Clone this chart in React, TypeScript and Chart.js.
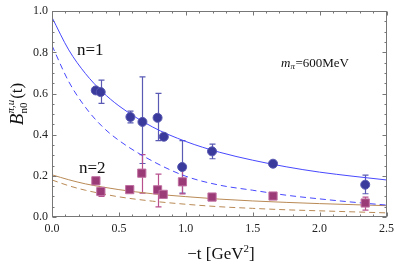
import React, { useEffect, useRef } from "react";
import { Chart, registerables } from "chart.js";

Chart.register(...registerables);

// n=1 lattice points
const t1 = [0.327, 0.364, 0.586, 0.676, 0.789, 0.836, 0.973, 1.196, 1.652, 2.341];
const v1 = [0.615, 0.607, 0.486, 0.462, 0.482, 0.39, 0.243, 0.319, 0.259, 0.157];
const lo1 = [null, 0.552, 0.457, 0.26, 0.371, null, 0.116, 0.283, null, 0.113];
const hi1 = [null, 0.665, 0.514, 0.681, 0.601, null, 0.371, 0.354, null, 0.203];

// n=2 lattice points
const t2 = [0.328, 0.365, 0.581, 0.671, 0.789, 0.831, 0.975, 1.196, 1.652, 2.341];
const v2 = [0.176, 0.124, 0.133, 0.213, 0.132, 0.11, 0.171, 0.097, 0.102, 0.068];
const lo2 = [null, 0.1, 0.122, 0.116, 0.049, null, 0.112, null, null, 0.033];
const hi2 = [null, 0.14, 0.145, 0.303, 0.208, null, 0.228, null, null, 0.097];

// fit curves
const tc = [0, 0.125, 0.25, 0.375, 0.5, 0.75, 1.0, 1.25, 1.5, 1.75, 2.0, 2.25, 2.5];
const fit1Solid = [0.97, 0.812, 0.697, 0.609, 0.54, 0.438, 0.367, 0.315, 0.276, 0.244, 0.218, 0.198, 0.18];
const fit1Dashed = [0.833, 0.658, 0.533, 0.44, 0.372, 0.272, 0.198, 0.155, 0.13, 0.106, 0.088, 0.072, 0.058];
const fit2Solid = [0.205, 0.181, 0.161, 0.146, 0.133, 0.113, 0.099, 0.087, 0.078, 0.071, 0.065, 0.06, 0.055];
const fit2Dashed = [0.18, 0.152, 0.13, 0.113, 0.098, 0.077, 0.062, 0.05, 0.042, 0.035, 0.03, 0.025, 0.02];

const xTicks = [0, 0.5, 1.0, 1.5, 2.0, 2.5];
const yTicks = [0, 0.2, 0.4, 0.6, 0.8, 1.0];

const SERIF = "'Liberation Serif', 'DejaVu Serif', serif";
const BLUE_LINE = "#4848ff";
const BROWN_LINE = "#b98a55";
const BLUE_PT = "#3a3a9c";
const PINK_PT = "#9a3a76";

const pts = (xs: number[], ys: number[]) => xs.map((x, i) => ({ x, y: ys[i] }));

const framePlugin = {
  id: "frame",
  beforeDatasetsDraw(chart: any) {
    const { ctx, scales } = chart;
    const xs = scales.x;
    const ys = scales.y;
    ctx.save();
    const drawErr = (xsArr: number[], lo: (number | null)[], hi: (number | null)[], color: string) => {
      ctx.strokeStyle = color;
      ctx.lineWidth = 1.2;
      xsArr.forEach((t, i) => {
        const l = lo[i];
        const h = hi[i];
        if (l == null || h == null) return;
        const px = Math.round(xs.getPixelForValue(t)) + 0.5;
        const pl = ys.getPixelForValue(l);
        const ph = ys.getPixelForValue(h);
        ctx.beginPath();
        ctx.moveTo(px, pl);
        ctx.lineTo(px, ph);
        ctx.moveTo(px - 3, pl);
        ctx.lineTo(px + 3, pl);
        ctx.moveTo(px - 3, ph);
        ctx.lineTo(px + 3, ph);
        ctx.stroke();
      });
    };
    drawErr(t1, lo1, hi1, "#5a5ab4");
    drawErr(t2, lo2, hi2, "#b8508e");
    ctx.restore();
  },
  afterDraw(chart: any) {
    const { ctx, chartArea: a, scales } = chart;
    const xs = scales.x;
    const ys = scales.y;
    ctx.save();
    ctx.strokeStyle = "#777";
    ctx.lineWidth = 1;
    const L = Math.round(a.left) + 0.5;
    const R = Math.round(a.right) - 0.5;
    const T = Math.round(a.top) + 0.5;
    const B = Math.round(a.bottom) - 0.5;
    ctx.strokeRect(L, T, R - L, B - T);
    ctx.beginPath();
    for (let k = 0; k <= 25; k++) {
      const v = k / 10;
      const len = k % 5 === 0 ? 4 : 2;
      const px = Math.round(xs.getPixelForValue(v)) + 0.5;
      ctx.moveTo(px, B);
      ctx.lineTo(px, B - len);
      ctx.moveTo(px, T);
      ctx.lineTo(px, T + len);
    }
    for (let k = 0; k <= 20; k++) {
      const v = k / 20;
      const len = k % 4 === 0 ? 4 : 2;
      const py = Math.round(ys.getPixelForValue(v)) + 0.5;
      ctx.moveTo(L, py);
      ctx.lineTo(L + len, py);
      ctx.moveTo(R, py);
      ctx.lineTo(R - len, py);
    }
    ctx.stroke();

    ctx.fillStyle = "#111";
    ctx.textBaseline = "middle";
    ctx.textAlign = "left";
    ctx.font = `17px ${SERIF}`;
    ctx.fillText("n=1", 77, 51);
    ctx.fillText("n=2", 79, 169);

    // m_pi = 600MeV
    let x = 281;
    const y = 64;
    ctx.font = `italic 13px ${SERIF}`;
    ctx.fillText("m", x, y);
    x += ctx.measureText("m").width;
    ctx.font = `italic 9px ${SERIF}`;
    ctx.fillText("π", x, y + 3);
    x += ctx.measureText("π").width + 0.5;
    ctx.font = `13px ${SERIF}`;
    ctx.fillText("=600MeV", x, y);

    // x title
    ctx.font = `17px ${SERIF}`;
    const a1 = "−t [GeV";
    const w1 = ctx.measureText(a1).width;
    ctx.font = `11px ${SERIF}`;
    const w2 = ctx.measureText("2").width;
    ctx.font = `17px ${SERIF}`;
    const w3 = ctx.measureText("]").width;
    let sx = 221 - (w1 + w2 + w3) / 2;
    const sy = 255;
    ctx.fillText(a1, sx, sy);
    sx += w1;
    ctx.font = `11px ${SERIF}`;
    ctx.fillText("2", sx, sy - 6);
    sx += w2;
    ctx.font = `17px ${SERIF}`;
    ctx.fillText("]", sx, sy);

    // y title
    ctx.save();
    ctx.translate(18, 104);
    ctx.rotate(-Math.PI / 2);
    ctx.font = `italic 19px ${SERIF}`;
    const wb = ctx.measureText("B").width;
    ctx.font = `italic 11px ${SERIF}`;
    const wsup = ctx.measureText("π,u").width;
    ctx.font = `11px ${SERIF}`;
    const wsub = ctx.measureText("n0").width;
    const wss = Math.max(wsup, wsub);
    ctx.font = `17px ${SERIF}`;
    const wt = ctx.measureText("(t)").width;
    let yx = -(wb + wss + 1 + wt) / 2;
    ctx.font = `italic 19px ${SERIF}`;
    ctx.fillText("B", yx, 0);
    yx += wb;
    ctx.font = `italic 11px ${SERIF}`;
    ctx.fillText("π,u", yx, -7);
    ctx.font = `11px ${SERIF}`;
    ctx.fillText("n0", yx, 6);
    yx += wss + 1;
    ctx.font = `17px ${SERIF}`;
    ctx.fillText("(t)", yx, 0);
    ctx.restore();

    ctx.restore();
  },
};

export default function App() {
  const ref = useRef<HTMLCanvasElement | null>(null);
  useEffect(() => {
    document.body.style.margin = "0";
    const canvas = ref.current;
    if (!canvas) return;
    const chart = new Chart(canvas, {
      type: "scatter",
      data: {
        datasets: [
          {
            label: "n=1 lattice",
            data: pts(t1, v1),
            pointStyle: "circle",
            pointRadius: 4.5,
            backgroundColor: BLUE_PT,
            borderColor: "#5656b0",
            borderWidth: 1,
          },
          {
            label: "n=2 lattice",
            data: pts(t2, v2),
            pointStyle: "rect",
            pointRadius: 5.8,
            backgroundColor: PINK_PT,
            borderColor: "#c070a2",
            borderWidth: 1,
          },
          {
            label: "n=1 fit",
            data: pts(tc, fit1Solid),
            showLine: true,
            pointRadius: 0,
            borderColor: BLUE_LINE,
            borderWidth: 1,
            cubicInterpolationMode: "monotone",
          },
          {
            label: "n=1 dashed",
            data: pts(tc, fit1Dashed),
            showLine: true,
            pointRadius: 0,
            borderColor: BLUE_LINE,
            borderWidth: 1,
            borderDash: [6, 4],
            cubicInterpolationMode: "monotone",
          },
          {
            label: "n=2 fit",
            data: pts(tc, fit2Solid),
            showLine: true,
            pointRadius: 0,
            borderColor: BROWN_LINE,
            borderWidth: 1,
            cubicInterpolationMode: "monotone",
          },
          {
            label: "n=2 dashed",
            data: pts(tc, fit2Dashed),
            showLine: true,
            pointRadius: 0,
            borderColor: BROWN_LINE,
            borderWidth: 1,
            borderDash: [6, 4],
            cubicInterpolationMode: "monotone",
          },
        ],
      },
      options: {
        responsive: false,
        animation: false,
        layout: { padding: { top: 7, right: 7, left: 0, bottom: 0 } },
        plugins: { legend: { display: false }, tooltip: { enabled: false } },
        scales: {
          x: {
            type: "linear",
            min: 0,
            max: 2.5,
            afterFit: (s: any) => {
              s.height = 48;
            },
            afterBuildTicks: (s: any) => {
              s.ticks = xTicks.map((v) => ({ value: v }));
            },
            grid: { display: false, drawTicks: false },
            border: { display: false },
            ticks: {
              padding: 5,
              color: "#222",
              font: { family: SERIF, size: 12 },
              callback: (v: any) => Number(v).toFixed(1),
            },
          },
          y: {
            type: "linear",
            min: 0,
            max: 1,
            afterFit: (s: any) => {
              s.width = 52;
            },
            afterBuildTicks: (s: any) => {
              s.ticks = yTicks.map((v) => ({ value: v }));
            },
            grid: { display: false, drawTicks: false },
            border: { display: false },
            ticks: {
              padding: 4,
              color: "#222",
              font: { family: SERIF, size: 12 },
              callback: (v: any) => Number(v).toFixed(1),
            },
          },
        },
      },
      plugins: [framePlugin],
    } as any);
    return () => chart.destroy();
  }, []);
  return (
    <div style={{ position: "fixed", left: 0, top: 0, width: 399, height: 265, background: "#fff" }}>
      <canvas ref={ref} width={399} height={265} style={{ width: 399, height: 265 }} />
    </div>
  );
}
